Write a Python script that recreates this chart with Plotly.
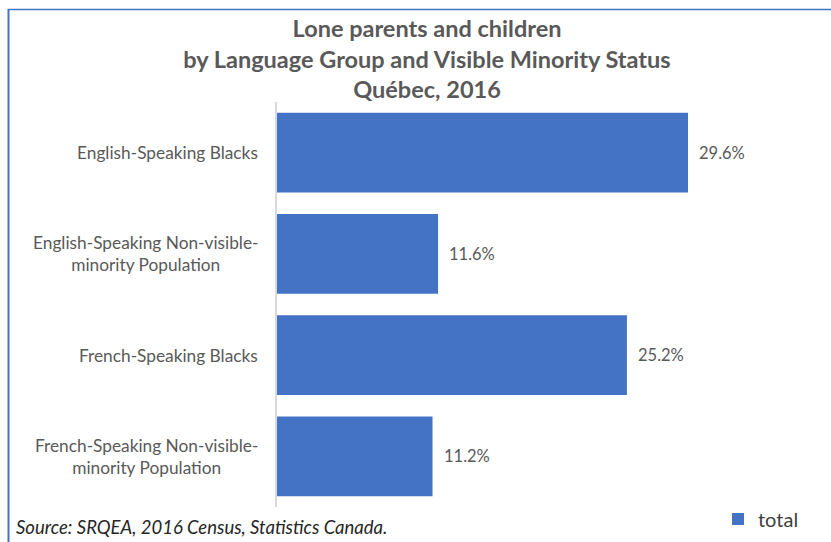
import plotly.graph_objects as go

categories = [
    "English-Speaking Blacks",
    "English-Speaking Non-visible-<br>minority Population",
    "French-Speaking Blacks",
    "French-Speaking Non-visible-<br>minority Population",
]
values = [29.6, 11.6, 25.2, 11.2]
value_labels = ["29.6%", "11.6%", "25.2%", "11.2%"]
series_name = "total"

W, H = 831, 542
FONT = "Lato"
GRAY = "#595959"
BLUE = "#4472C4"


def px_x(p):
    return p / W


def px_y(p):
    return 1 - p / H


fig = go.Figure()
fig.add_trace(go.Bar(
    y=categories,
    x=values,
    orientation="h",
    name=series_name,
    marker=dict(color=BLUE, line=dict(width=0)),
    showlegend=True,
))

annotations = []
# category labels (center-aligned wrapped text like the original)
for c in categories:
    annotations.append(dict(
        x=px_x(260), xref="paper", xanchor="right",
        y=c, yref="y", yanchor="middle",
        text=c, showarrow=False, align="center",
        font=dict(family=FONT, size=17.3, color=GRAY),
    ))
# value labels
for c, v, t in zip(categories, values, value_labels):
    annotations.append(dict(
        x=v, xref="x", xanchor="left", xshift=9,
        y=c, yref="y", yanchor="middle",
        text=t, showarrow=False,
        font=dict(family=FONT, size=16.5, color=GRAY),
    ))
# source note
annotations.append(dict(
    x=px_x(14), xref="paper", xanchor="left",
    y=px_y(527), yref="paper", yanchor="middle",
    text="<i>Source: SRQEA, 2016 Census, Statistics Canada.</i>",
    showarrow=False,
    font=dict(family=FONT, size=18.5, color="#262626"),
))

fig.update_layout(
    width=W, height=H,
    margin=dict(l=0, r=0, t=0, b=0),
    paper_bgcolor="white",
    plot_bgcolor="white",
    title=dict(
        text="Lone parents and children<br>by Language Group and Visible Minority Status<br>Québec, 2016",
        x=px_x(427), xanchor="center",
        y=px_y(37), yanchor="top",
        font=dict(family=FONT, size=23.5, color=GRAY, weight="bold"),
    ),
    xaxis=dict(
        domain=[px_x(277), px_x(763)],
        range=[0, 35],
        visible=False,
        showgrid=False, zeroline=False,
    ),
    yaxis=dict(
        domain=[px_y(507), px_y(102)],
        categoryorder="array", categoryarray=categories,
        autorange="reversed",
        showticklabels=False, ticks="",
        showline=True, linecolor="#d9d9d9", linewidth=2,
        showgrid=False, zeroline=False,
    ),
    bargap=0.21,
    legend=dict(
        orientation="h",
        x=px_x(718), xanchor="left",
        y=px_y(519), yanchor="middle",
        font=dict(family=FONT, size=20, color="#404040"),
        bgcolor="rgba(0,0,0,0)",
        itemwidth=30,
    ),
    annotations=annotations,
    shapes=[
        dict(type="line", xref="paper", yref="paper",
             x0=px_x(8.5), x1=px_x(8.5), y0=px_y(9), y1=0,
             line=dict(color=BLUE, width=2)),
        dict(type="line", xref="paper", yref="paper",
             x0=px_x(8), x1=1, y0=px_y(9.5), y1=px_y(9.5),
             line=dict(color=BLUE, width=1.5)),
    ],
    font=dict(family=FONT, color=GRAY),
)

fig.write_html(
    "out.html",
    config={"displayModeBar": False},
    post_script="document.body.style.margin='0';document.body.style.overflow='hidden';",
)
